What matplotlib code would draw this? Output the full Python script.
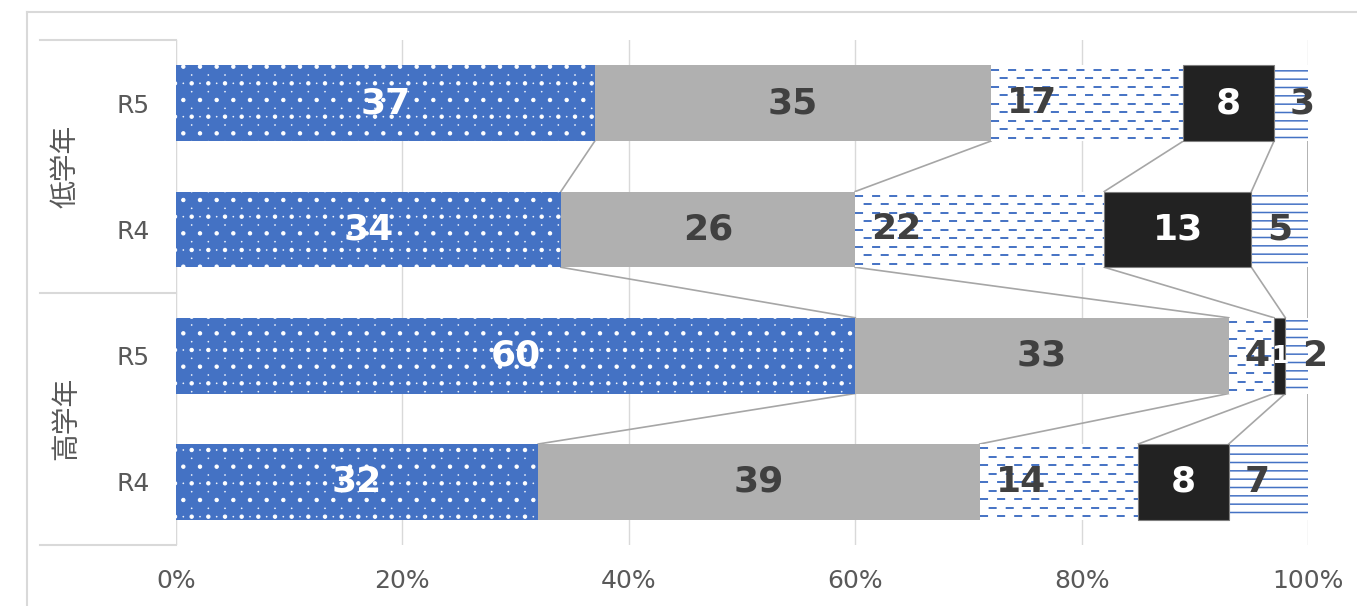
import numpy as np
import matplotlib
matplotlib.use('Agg')
import matplotlib.pyplot as plt
import matplotlib.hatch as mhatch
from matplotlib.path import Path
from matplotlib.lines import Line2D
from matplotlib.transforms import blended_transform_factory

plt.rcParams['font.family'] = ['DejaVu Sans', 'Noto Sans CJK JP']
plt.rcParams['hatch.linewidth'] = 1.1
plt.rcParams['lines.scale_dashes'] = False


# '.' のハッチを Excel の「点線 (粗い)」に近い千鳥状の点に置き換える
class SparseDots(mhatch.HatchPatternBase):
    def __init__(self, hatch, density):
        self.ncol = hatch.count('.') * density
        self.nrow = self.ncol * 2
        circle = Path.unit_circle()
        self.shape_vertices = circle.vertices * 0.003
        self.shape_codes = circle.codes
        if self.ncol == 0:
            self.num_vertices = 0
        else:
            n = (self.nrow // 2 + 1) * (self.ncol + 1) + (self.nrow // 2) * self.ncol
            self.num_vertices = n * len(self.shape_vertices)

    def set_vertices_and_codes(self, vertices, codes):
        vparts, cparts = [], []
        for row in range(self.nrow + 1):
            if row % 2 == 0:
                cols = np.linspace(0, 1, self.ncol + 1)
            else:
                cols = np.linspace(0.5 / self.ncol, 1 - 0.5 / self.ncol, self.ncol)
            for c in cols:
                vparts.append(self.shape_vertices + [c, row / self.nrow])
                cparts.append(self.shape_codes)
        np.concatenate(vparts, out=vertices)
        np.concatenate(cparts, out=codes)


for k, t in enumerate(mhatch._hatch_types):
    if t is mhatch.SmallCircles:
        mhatch._hatch_types[k] = SparseDots

# データ (上から順に)
groups = ['低学年', '高学年']
years = ['R5', 'R4', 'R5', 'R4']
s1 = [37, 34, 60, 32]
s2 = [35, 26, 33, 39]
s3 = [17, 22, 4, 14]
s4 = [8, 13, 1, 8]
s5 = [3, 5, 2, 7]
xticks = [0, 20, 40, 60, 80, 100]

# 最後の系列ラベルの手動ずらし (%)
s5_nudge = [1.0, 0, 1.6, -1.0]

blue = '#4472C4'
gray = '#B0B0B0'
black = '#222222'
dark = '#404040'
grid = '#D9D9D9'
bar_h = 0.6

fig = plt.figure(figsize=(13.57, 6.06), dpi=100)
ax = fig.add_axes([176 / 1357, 1 - 545 / 606, (1308 - 176) / 1357, (545 - 40) / 606])

y = np.arange(len(years))
data = np.array([s1, s2, s3, s4, s5])
cum = np.cumsum(data, axis=0)
left = np.vstack([np.zeros(len(years)), cum[:-1]])

# 棒
with plt.rc_context({'hatch.linewidth': 0.75}):
    ax.barh(y, s1, left=left[0], height=bar_h, color=blue, edgecolor='white',
            hatch='.', linewidth=0, zorder=2)
ax.barh(y, s2, left=left[1], height=bar_h, color=gray, linewidth=0, zorder=2)
ax.barh(y, s3, left=left[2], height=bar_h, color='white', linewidth=0, zorder=2)
ax.barh(y, s4, left=left[3], height=bar_h, color=black, edgecolor='#7F7F7F',
        linewidth=0.8, zorder=3)
ax.barh(y, s5, left=left[4], height=bar_h, color='white', edgecolor=blue,
        hatch='--', linewidth=0, zorder=2)

# 破線パターン (3番目の系列)
step = 8.5 * 4 / 505
for i in range(len(years)):
    x0, x1 = left[2][i], cum[2][i]
    rows = np.arange(i - bar_h / 2 + step / 2, i + bar_h / 2, step)
    for j, r in enumerate(rows):
        off = 0 if j % 2 == 0 else 6.1
        ax.hlines(r, x0, x1, color=blue, lw=1.4,
                  linestyle=(off, (5.8, 6.5)), zorder=2.5)

# 系列線
for i in range(len(years) - 1):
    for k in range(data.shape[0]):
        ax.plot([cum[k][i], cum[k][i + 1]], [i + bar_h / 2, i + 1 - bar_h / 2],
                color='#A6A6A6', lw=1.2, zorder=1)

# データラベル
fs = 26
for i in range(len(years)):
    ax.text(left[0][i] + s1[i] / 2, i, str(s1[i]), ha='center', va='center',
            color='white', fontsize=fs, fontweight='bold', zorder=5)
    ax.text(left[1][i] + s2[i] / 2, i, str(s2[i]), ha='center', va='center',
            color=dark, fontsize=fs, fontweight='bold', zorder=5)
    ax.text(left[2][i] + 1.4, i, str(s3[i]), ha='left', va='center',
            color=dark, fontsize=fs, fontweight='bold', zorder=5)
    ax.text(left[3][i] + s4[i] / 2, i, str(s4[i]), ha='center', va='center',
            color='white', fontsize=fs if s4[i] > 2 else 18, fontweight='bold',
            zorder=5)
    ax.text(left[4][i] + s5[i] / 2 + s5_nudge[i], i, str(s5[i]), ha='center',
            va='center', color=dark, fontsize=fs, fontweight='bold', zorder=5)

ax.set_xlim(0, 100)
ax.set_ylim(len(years) - 0.5, -0.5)
ax.set_xticks(xticks)
ax.set_xticklabels([f'{v}%' for v in xticks])
ax.set_yticks(y)
ax.set_yticklabels(years)
ax.tick_params(length=0, colors='#595959', labelsize=18)
ax.tick_params(axis='x', pad=17)
ax.tick_params(axis='y', pad=19)
ax.grid(axis='x', color=grid, lw=1, zorder=0)
ax.set_axisbelow(True)
for s in ax.spines.values():
    s.set_visible(False)

# 軸ラベルの枠線
tr = blended_transform_factory(fig.transFigure, ax.transAxes)
for yy in [0, 0.5, 1]:
    fig.add_artist(Line2D([40 / 1357, 176 / 1357], [yy, yy], transform=tr,
                          color=grid, lw=1.5))
ax.axvline(0, color=grid, lw=1.5, zorder=0)
for g, yy in zip(groups, [0.75, 0.25]):
    fig.text(66 / 1357, yy, g, transform=tr, rotation=90, ha='center',
             va='center', color='#595959', fontsize=20)

# 外枠
fig.add_artist(Line2D([27 / 1357, 1], [1 - 12 / 606, 1 - 12 / 606],
                      transform=fig.transFigure, color=grid, lw=1.5))
fig.add_artist(Line2D([27 / 1357, 27 / 1357], [0, 1 - 12 / 606],
                      transform=fig.transFigure, color=grid, lw=1.5))

fig.savefig('out.png', dpi=100)
